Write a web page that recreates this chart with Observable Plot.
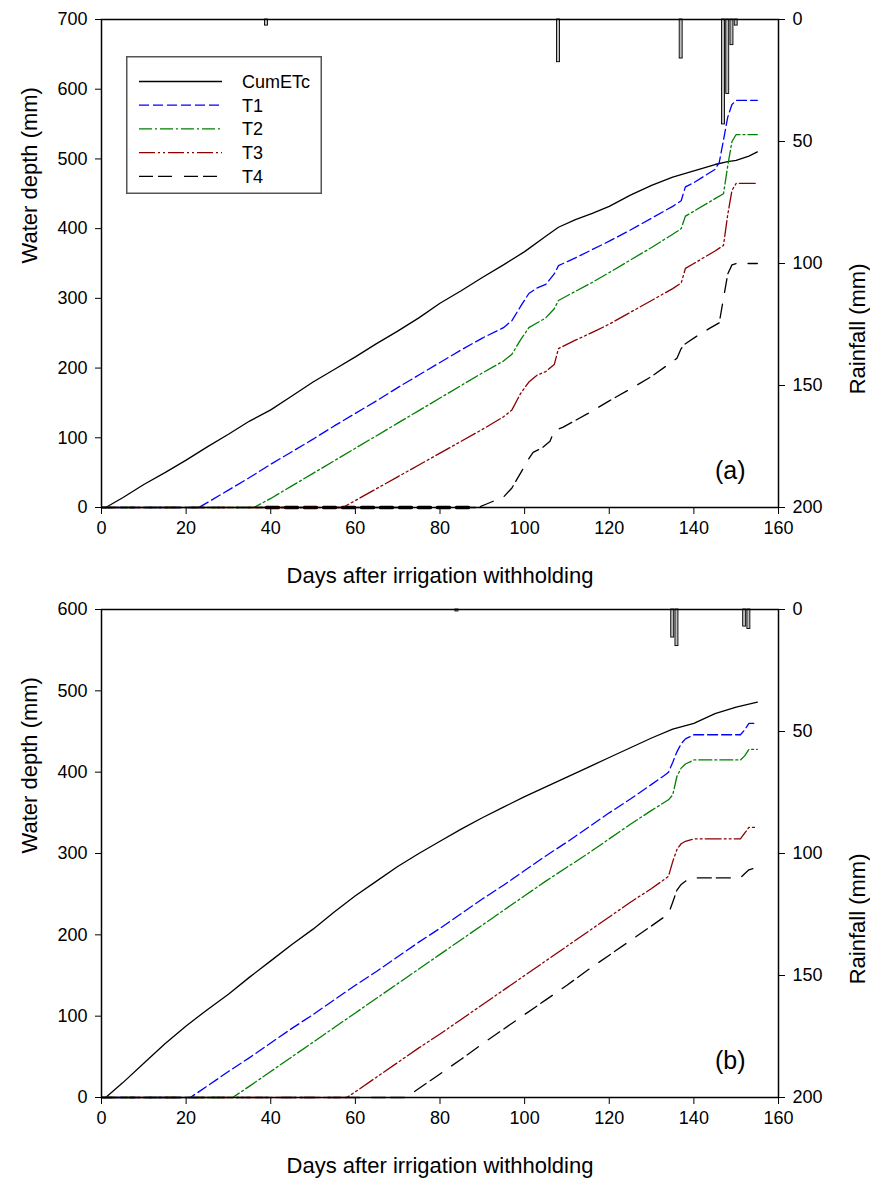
<!DOCTYPE html>
<html>
<head>
<meta charset="utf-8">
<script src="https://cdn.jsdelivr.net/npm/d3@7"></script>
<script src="https://cdn.jsdelivr.net/npm/@observablehq/plot@0.6"></script>
<style>
  body { margin: 0; background: white; }
  #wrap { position: relative; width: 870px; height: 1180px; background: white; }
  #wrap svg { display: block; }
  #legend { position: absolute; left: 126px; top: 56px; }
</style>
</head>
<body>
<div id="wrap"></div>
<script>
// ---------------- DATA ----------------
const seriesNames = ["CumETc", "T1", "T2", "T3", "T4"];
const xTicks = [0, 20, 40, 60, 80, 100, 120, 140, 160];
const rainTicks = [0, 50, 100, 150, 200];

// Panel (a)
const cumA_day = [1, 5, 10, 15, 20, 25, 30, 35, 40, 45, 50, 55, 60, 65, 70, 75, 80, 85, 90, 95, 100, 105, 108, 112, 116, 120, 125, 130, 135, 140, 145, 148, 150, 153, 155];
const cumA_mm  = [0, 14, 33, 50, 68, 87, 105, 124, 140, 160, 180, 198, 216, 235, 253, 272, 293, 311, 330, 348, 367, 389, 402, 413, 422, 432, 448, 462, 474, 483, 492, 496, 498, 504, 510];

const t1A_day = [0, 23, 25, 30, 35, 40, 45, 50, 55, 60, 65, 70, 75, 80, 85, 90, 95, 97, 99, 101, 103, 105, 107, 108, 112, 116, 120, 125, 130, 135, 137, 138, 140, 145, 146, 147, 148, 149, 150, 155];
const t1A_mm  = [0, 0, 7, 25, 43, 62, 80, 98, 117, 135, 153, 172, 190, 208, 226, 243, 258, 268, 288, 307, 315, 320, 335, 347, 358, 370, 382, 398, 415, 432, 440, 460, 466, 485, 495, 527, 560, 578, 584, 584];

const t2A_day = [0, 36, 40, 45, 50, 55, 60, 65, 70, 75, 80, 85, 90, 95, 97, 99, 101, 103, 105, 107, 108, 112, 116, 120, 125, 130, 135, 137, 138, 140, 145, 147, 148, 149, 150, 155];
const t2A_mm  = [0, 0, 13, 31, 49, 67, 85, 103, 121, 139, 157, 175, 193, 210, 220, 240, 258, 265, 272, 285, 297, 310, 323, 337, 355, 373, 392, 400, 418, 425, 443, 450, 490, 525, 535, 535];

const t3A_day = [0, 57, 60, 65, 70, 75, 80, 85, 90, 95, 97, 99, 101, 103, 105, 107, 108, 112, 117, 120, 125, 130, 135, 137, 138, 140, 145, 147, 148, 149, 150, 155];
const t3A_mm  = [0, 0, 10, 27, 44, 61, 78, 95, 112, 130, 140, 163, 180, 190, 195, 205, 228, 240, 254, 263, 280, 297, 314, 322, 343, 350, 368, 376, 420, 455, 465, 465];

const t4A_day = [0, 89, 91, 93, 95, 97, 99, 101, 102, 104, 106, 107, 109, 115, 120, 125, 130, 136, 137, 138, 141, 144, 146, 147, 148, 149, 150, 155];
const t4A_mm  = [0, 0, 5, 10, 15, 28, 49, 70, 79, 85, 95, 110, 115, 135, 153, 170, 188, 214, 228, 235, 247, 258, 265, 300, 335, 348, 350, 350];
const t4A_boldZero = [39, 87];

const rainA_day = [39, 108, 137, 147, 148, 149, 150];
const rainA_mm  = [2.5, 17.5, 16, 43, 30.5, 10.5, 2.5];

// Panel (b)
const cumB_day = [1, 5, 10, 15, 20, 25, 30, 35, 40, 45, 50, 55, 60, 65, 70, 75, 80, 85, 90, 95, 100, 105, 110, 115, 120, 125, 130, 135, 140, 145, 150, 155];
const cumB_mm  = [0, 18, 42, 66, 88, 108, 127, 148, 168, 188, 207, 228, 248, 266, 284, 300, 315, 330, 344, 357, 370, 382, 394, 406, 418, 430, 442, 453, 460, 472, 480, 486];

const t1B_day = [0, 21, 25, 30, 35, 40, 45, 50, 55, 60, 65, 70, 75, 80, 85, 90, 95, 100, 105, 110, 115, 120, 125, 130, 133, 134, 135, 136, 137, 138, 140, 145, 151, 152, 153, 155];
const t1B_mm  = [0, 0, 14, 32, 49, 67, 85, 102, 120, 138, 155, 173, 191, 208, 226, 244, 261, 279, 297, 314, 332, 350, 367, 385, 396, 400, 412, 425, 435, 441, 446, 446, 446, 452, 460, 460];

const t2B_day = [0, 31, 35, 40, 45, 50, 55, 60, 65, 70, 75, 80, 85, 90, 95, 100, 105, 110, 115, 120, 125, 130, 134, 135, 136, 137, 138, 140, 151, 152, 153, 155];
const t2B_mm  = [0, 0, 14, 32, 50, 68, 86, 104, 122, 140, 158, 176, 194, 212, 230, 248, 266, 283, 300, 318, 336, 353, 366, 372, 395, 405, 410, 415, 415, 420, 428, 428];

const t3B_day = [0, 58, 60, 65, 70, 75, 80, 85, 90, 95, 100, 105, 110, 115, 120, 125, 130, 133, 134, 135, 136, 137, 138, 140, 151, 152, 153, 155];
const t3B_mm  = [0, 0, 7, 25, 43, 61, 78, 96, 114, 132, 150, 168, 186, 204, 222, 240, 257, 268, 272, 290, 305, 312, 315, 318, 318, 325, 332, 332];

const t4B_day = [0, 72, 75, 80, 85, 90, 95, 100, 105, 110, 115, 120, 125, 130, 133, 134, 135, 136, 137, 138, 140, 151, 152, 153, 155];
const t4B_mm  = [0, 0, 11, 29, 47, 66, 84, 102, 120, 138, 157, 175, 193, 211, 222, 226, 240, 255, 262, 266, 270, 270, 275, 280, 283];

const rainB_day = [84, 135, 136, 152, 153];
const rainB_mm  = [0.8, 11.5, 15, 7, 8];

// ---------------- STYLES ----------------
const styles = {
  CumETc: {stroke: "#000000", dash: null, width: 1.3},
  T1: {stroke: "#0000ff", dash: "10,4", width: 1.3},
  T2: {stroke: "#008000", dash: "13,3,2,3", width: 1.3},
  T3: {stroke: "#8b0000", dash: "16,3,2,3,2,3", width: 1.3},
  T4: {stroke: "#000000", dash: "14,5,14,12", width: 1.3}
};
const FONT = "'Liberation Sans', Arial, sans-serif";

const rows = (days, vals) => days.map((d, i) => ({day: d, mm: vals[i]}));

function panel({ymax, series, rainDay, rainMm, tag, boldZero}) {
  const k = ymax / 200; // rainfall mm -> left-axis units (reversed from top)
  const rain = rainDay.map((d, i) => ({day: d, rain: rainMm[i]}));
  const marks = [
    Plot.rect(rain, {
      x1: d => d.day - 0.35, x2: d => d.day + 0.35,
      y1: () => ymax, y2: d => ymax - d.rain * k,
      fill: "#bdbdbd", stroke: "#000", strokeWidth: 0.9
    })
  ];
  if (boldZero) {
    marks.push(Plot.line(boldZero.map(d => ({day: d, mm: 0})), {
      x: "day", y: "mm", stroke: "#000", strokeWidth: 3.5, strokeDasharray: "12,7"
    }));
  }
  seriesNames.forEach((name, i) => {
    const s = styles[name];
    marks.push(Plot.line(series[i], {
      x: "day", y: "mm", stroke: s.stroke, strokeWidth: s.width,
      strokeDasharray: s.dash || undefined
    }));
  });
  marks.push(
    Plot.axisX({ticks: xTicks, tickSize: 7, tickPadding: 7, label: null, fontSize: 18}),
    Plot.axisY({anchor: "left", ticks: d3.range(0, ymax + 1, 100), tickSize: 6, tickPadding: 8, label: null, fontSize: 18}),
    Plot.axisY({anchor: "right", ticks: rainTicks.map(r => ymax - r * k),
      tickFormat: v => String(Math.round((ymax - v) / k)), tickSize: 6, tickPadding: 8, label: null, fontSize: 18}),
    Plot.frame({stroke: "#000", strokeWidth: 1.5}),
    Plot.text(["Water depth (mm)"], {text: d => d, frameAnchor: "left", dx: -72, rotate: -90, fontSize: 22, lineAnchor: "middle"}),
    Plot.text(["Rainfall (mm)"], {text: d => d, frameAnchor: "right", dx: 79, rotate: -90, fontSize: 22, lineAnchor: "middle"}),
    Plot.text(["Days after irrigation withholding"], {text: d => d, frameAnchor: "bottom", dy: 68, fontSize: 22, lineAnchor: "middle"}),
    Plot.text([tag], {text: d => d, frameAnchor: "bottom-right", dx: -33, dy: -37, textAnchor: "end", lineAnchor: "middle", fontSize: 25})
  );
  return Plot.plot({
    width: 870, height: 590,
    marginTop: 19, marginBottom: 83, marginLeft: 101, marginRight: 92,
    x: {domain: [0, 160]},
    y: {domain: [0, ymax]},
    style: {fontFamily: FONT, fontSize: "18px", color: "#000", background: "white", overflow: "visible"},
    marks
  });
}

const wrap = document.getElementById("wrap");
const svgA = panel({
  ymax: 700,
  series: [rows(cumA_day, cumA_mm), rows(t1A_day, t1A_mm), rows(t2A_day, t2A_mm), rows(t3A_day, t3A_mm), rows(t4A_day, t4A_mm)],
  rainDay: rainA_day, rainMm: rainA_mm, tag: "(a)", boldZero: t4A_boldZero
});
const svgB = panel({
  ymax: 600,
  series: [rows(cumB_day, cumB_mm), rows(t1B_day, t1B_mm), rows(t2B_day, t2B_mm), rows(t3B_day, t3B_mm), rows(t4B_day, t4B_mm)],
  rainDay: rainB_day, rainMm: rainB_mm, tag: "(b)"
});
wrap.appendChild(svgA);
wrap.appendChild(svgB);

// Legend (inside panel a, top-left)
const lg = d3.create("svg").attr("id", "legend").attr("width", 196).attr("height", 138)
  .style("font-family", FONT).style("font-size", "18px");
lg.append("rect").attr("x", 0.75).attr("y", 0.75).attr("width", 194.5).attr("height", 136.5)
  .attr("fill", "white").attr("stroke", "#555").attr("stroke-width", 1.5);
seriesNames.forEach((name, i) => {
  const s = styles[name];
  const yy = 25.5 + i * 23.7;
  lg.append("line").attr("x1", 13).attr("x2", 96).attr("y1", yy).attr("y2", yy)
    .attr("stroke", s.stroke).attr("stroke-width", s.width)
    .attr("stroke-dasharray", s.dash);
  lg.append("text").attr("x", 116).attr("y", yy).attr("dy", "0.35em").text(name);
});
wrap.appendChild(lg.node());
</script>
</body>
</html>
